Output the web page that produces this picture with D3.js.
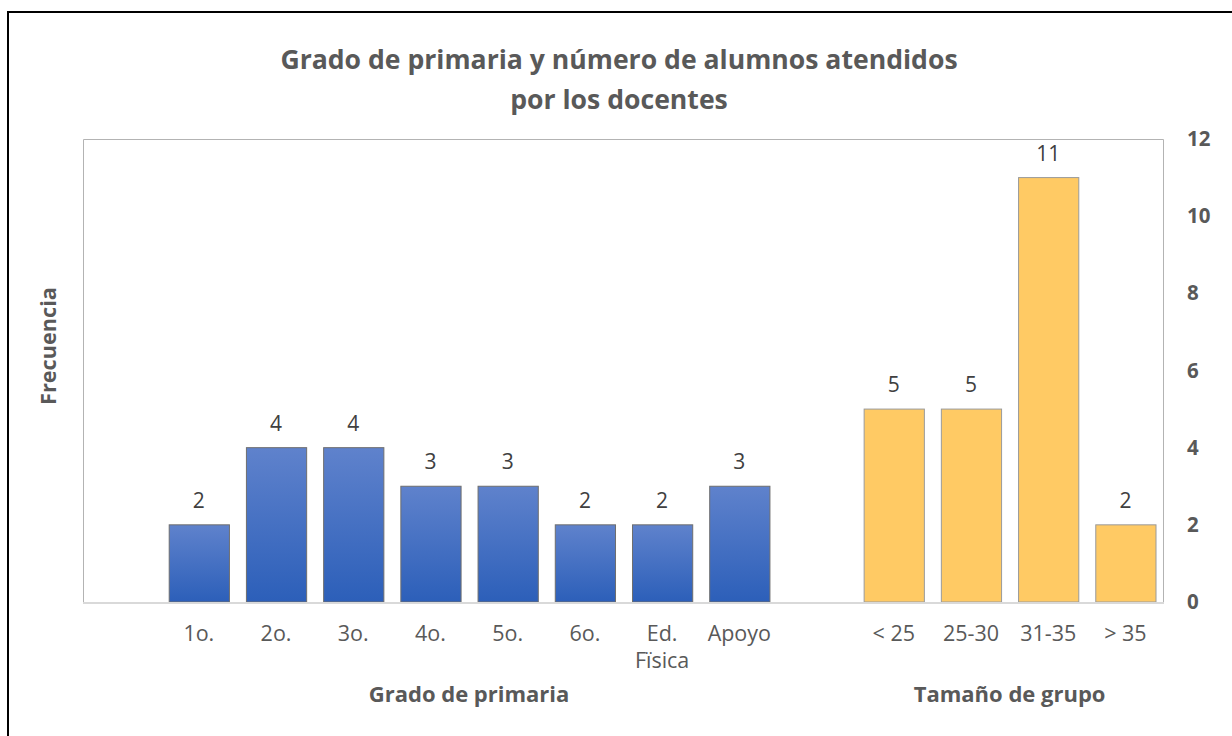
<!DOCTYPE html>
<html><head><meta charset="utf-8">
<script src="https://cdn.jsdelivr.net/npm/d3@7"></script>
<style>
html,body{margin:0;padding:0;background:#fff;}
svg{display:block;font-family:"Open Sans",Lato,sans-serif;}
</style></head>
<body>
<svg id="c" width="1232" height="736"></svg>
<script>
const gradeCats = ["1o.", "2o.", "3o.", "4o.", "5o.", "6o.", "Ed. Fïsica", "Apoyo"];
const gradeVals = [2, 4, 4, 3, 3, 2, 2, 3];
const sizeCats = ["< 25", "25-30", "31-35", "> 35"];
const sizeVals = [5, 5, 11, 2];
const yTicks = [0, 2, 4, 6, 8, 10, 12];
const titleLines = ["Grado de primaria y número de alumnos atendidos", "por los docentes"];

const svg = d3.select("#c");
const W = 1232, H = 736;
const m = {left: 83, right: 1164, top: 139, bottom: 602};
const FONT = "'Open Sans',Lato,sans-serif";

// outer frame
svg.append("rect").attr("x", 8).attr("y", 12).attr("width", W + 10).attr("height", H + 10)
  .attr("fill", "#fff").attr("stroke", "#000").attr("stroke-width", 2);

const rows = [{key: "_b0", label: "", v: null, g: null}]
  .concat(gradeCats.map((c, i) => ({key: "g" + i, label: c, v: gradeVals[i], g: "grade"})))
  .concat([{key: "_b1", label: "", v: null, g: null}])
  .concat(sizeCats.map((c, i) => ({key: "s" + i, label: c, v: sizeVals[i], g: "size"})));

const x = d3.scaleBand().domain(rows.map(d => d.key)).range([m.left, m.right]).paddingInner(0.22).paddingOuter(0.11);
const y = d3.scaleLinear().domain([0, 12]).range([m.bottom, m.top]);

const defs = svg.append("defs");
const grad = defs.append("linearGradient").attr("id", "blueGrad").attr("x1", 0).attr("y1", 0).attr("x2", 0).attr("y2", 1);
grad.append("stop").attr("offset", "0%").attr("stop-color", "#5f82cc");
grad.append("stop").attr("offset", "100%").attr("stop-color", "#2c5fb9");

// plot border (left, top, right)
svg.append("path")
  .attr("d", `M${m.left + 0.5},${m.bottom}V${m.top + 0.5}H${m.right - 0.5}V${m.bottom}`)
  .attr("fill", "none").attr("stroke", "#b3b3b3").attr("stroke-width", 1);

const data = rows.filter(d => d.v !== null);

svg.append("g").selectAll("rect").data(data).join("rect")
  .attr("x", d => x(d.key) + 0.5)
  .attr("y", d => y(d.v))
  .attr("width", x.bandwidth())
  .attr("height", d => y(0) - y(d.v))
  .attr("fill", d => d.g === "grade" ? "url(#blueGrad)" : "#ffca64")
  .attr("stroke", d => d.g === "grade" ? "#6e6e6e" : "#9a9a9a")
  .attr("stroke-width", 1);

// baseline
svg.append("line").attr("x1", m.left).attr("x2", m.right).attr("y1", m.bottom + 1).attr("y2", m.bottom + 1)
  .attr("stroke", "#d9d9d9").attr("stroke-width", 2);

// data labels
svg.append("g").selectAll("text").data(data).join("text")
  .attr("x", d => x(d.key) + x.bandwidth() / 2)
  .attr("y", d => y(d.v) - 17)
  .attr("text-anchor", "middle")
  .attr("font-size", 21).attr("fill", "#404040")
  .text(d => d.v);

// x tick labels
const xl = svg.append("g").selectAll("text").data(data).join("text")
  .attr("x", d => x(d.key) + x.bandwidth() / 2)
  .attr("y", 641)
  .attr("text-anchor", "middle")
  .attr("font-size", 21.5).attr("fill", "#595959");
xl.each(function(d) {
  const parts = d.label === "Ed. Fïsica" ? ["Ed.", "Fïsica"] : [d.label];
  d3.select(this).selectAll("tspan").data(parts).join("tspan")
    .attr("x", x(d.key) + x.bandwidth() / 2)
    .attr("dy", (p, i) => i === 0 ? 0 : 27)
    .text(p => p);
});

// right y axis
const yAxis = d3.axisRight(y).tickValues(yTicks).tickSize(0).tickPadding(0);
const ya = svg.append("g").attr("transform", `translate(1187,0)`).call(yAxis);
ya.select(".domain").remove();
ya.selectAll("text").attr("font-size", 20.5).attr("font-weight", "bold").attr("fill", "#595959")
  .attr("font-family", FONT);

// title
svg.append("g").selectAll("text").data(titleLines).join("text")
  .attr("x", 619).attr("y", (d, i) => 69 + i * 40)
  .attr("text-anchor", "middle")
  .attr("font-size", 26.6).attr("font-weight", "bold").attr("fill", "#595959")
  .text(d => d);

// axis titles
svg.append("text").attr("transform", "translate(56,346) rotate(-90)")
  .attr("text-anchor", "middle").attr("font-size", 21.7).attr("font-weight", "bold").attr("fill", "#595959")
  .text("Frecuencia");
const gx = (x("g0") + x("g7") + x.bandwidth()) / 2;
const sx = (x("s0") + x("s3") + x.bandwidth()) / 2;
svg.append("text").attr("x", gx).attr("y", 702).attr("text-anchor", "middle")
  .attr("font-size", 22).attr("font-weight", "bold").attr("fill", "#595959").text("Grado de primaria");
svg.append("text").attr("x", sx).attr("y", 702).attr("text-anchor", "middle")
  .attr("font-size", 22).attr("font-weight", "bold").attr("fill", "#595959").text("Tamaño de grupo");
</script>
</body></html>
